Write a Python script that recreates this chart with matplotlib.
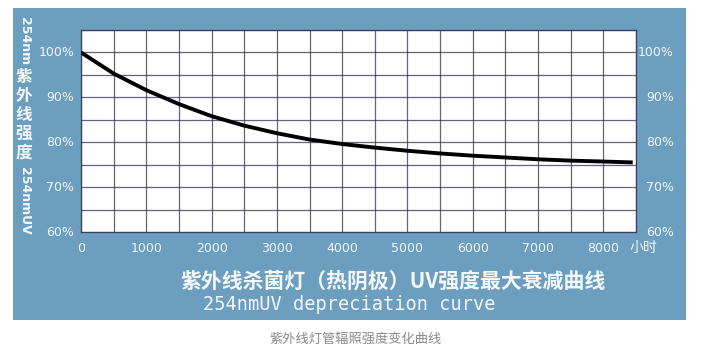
import matplotlib.pyplot as plt
from matplotlib.patches import Rectangle
import numpy as np

# UV intensity (%)
hours = [0, 500, 1000, 1500, 2000, 2500, 3000, 3500, 4000, 4500,
         5000, 5500, 6000, 6500, 7000, 7500, 8000, 8450]
uv = [100, 95.3, 91.6, 88.5, 85.8, 83.7, 82.0, 80.6, 79.6, 78.8,
      78.1, 77.5, 77.0, 76.6, 76.2, 75.9, 75.7, 75.5]

x_ticks = [0, 1000, 2000, 3000, 4000, 5000, 6000, 7000, 8000]
y_ticks = [60, 70, 80, 90, 100]
y_labels = ["60%", "70%", "80%", "90%", "100%"]

title_cn = "紫外线杀菌灯（热阴极）UV强度最大衰减曲线"
title_en = "254nmUV depreciation curve"
caption = "紫外线灯管辐照强度变化曲线"

panel = "#6b9ebf"
grid_c = "#3d3b5e"
label_c = "#f4f8fb"
cjk = ["Noto Sans CJK SC", "DejaVu Sans"]

fig = plt.figure(figsize=(7.06, 3.53), dpi=100)
fig.patches.append(Rectangle((13 / 706, 1 - 320 / 353), 673 / 706, 312 / 353,
                             transform=fig.transFigure, facecolor=panel,
                             edgecolor="none", zorder=-1))

ax = fig.add_axes([81 / 706, 1 - 232 / 353, 555 / 706, 202 / 353])
ax.set_facecolor("white")
ax.plot(hours, uv, color="black", lw=2.8, solid_capstyle="butt", zorder=3)

ax.set_xlim(0, 8500)
ax.set_ylim(60, 105)
ax.set_xticks(np.arange(0, 8501, 500))
ax.set_yticks(np.arange(60, 106, 5))
ax.grid(True, color=grid_c, lw=0.9, alpha=0.8)
ax.tick_params(length=0, labelleft=False, labelbottom=False)
for s in ax.spines.values():
    s.set_color(grid_c)
    s.set_linewidth(0.9)

# tick labels drawn as text so only every other gridline is labelled
for v, lab in zip(y_ticks, y_labels):
    ax.text(-0.012, (v - 60) / 45, lab, transform=ax.transAxes, ha="right",
            va="center", color=label_c, fontsize=9)
    ax.text(1.0685, (v - 60) / 45, lab, transform=ax.transAxes, ha="right",
            va="center", color=label_c, fontsize=9)
for v in x_ticks:
    ax.text(v, -0.08, str(v), transform=ax.get_xaxis_transform(), ha="center",
            va="center", color=label_c, fontsize=9)
ax.text(1.013, -0.08, "小时", transform=ax.transAxes, ha="center", va="center",
        color=label_c, fontsize=10, family=cjk)

# left vertical label
fig.text(24 / 706, 1 - 41 / 353, "254nm", rotation=-90, ha="center", va="center",
         color=label_c, fontsize=9, fontweight="bold")
for ch, yy in zip("紫外线强度", [77, 96, 115, 134, 153]):
    fig.text(24 / 706, 1 - yy / 353, ch, ha="center", va="center", color=label_c,
             fontsize=12, fontweight="bold", family=cjk)
fig.text(24 / 706, 1 - 201 / 353, "254nmUV", rotation=-90, ha="center", va="center",
         color=label_c, fontsize=9, fontweight="bold")

fig.text(393 / 706, 1 - 281 / 353, title_cn, ha="center", va="center",
         color=label_c, fontsize=15, fontweight="bold", family=cjk)
fig.text(349 / 706, 1 - 305 / 353, title_en, ha="center", va="center",
         color=label_c, fontsize=13.4, family="DejaVu Sans Mono")
fig.text(356 / 706, 1 - 339 / 353, caption, ha="center", va="center",
         color="#8a8a8a", fontsize=9.5, family=cjk)

fig.savefig("out.png", dpi=100)
